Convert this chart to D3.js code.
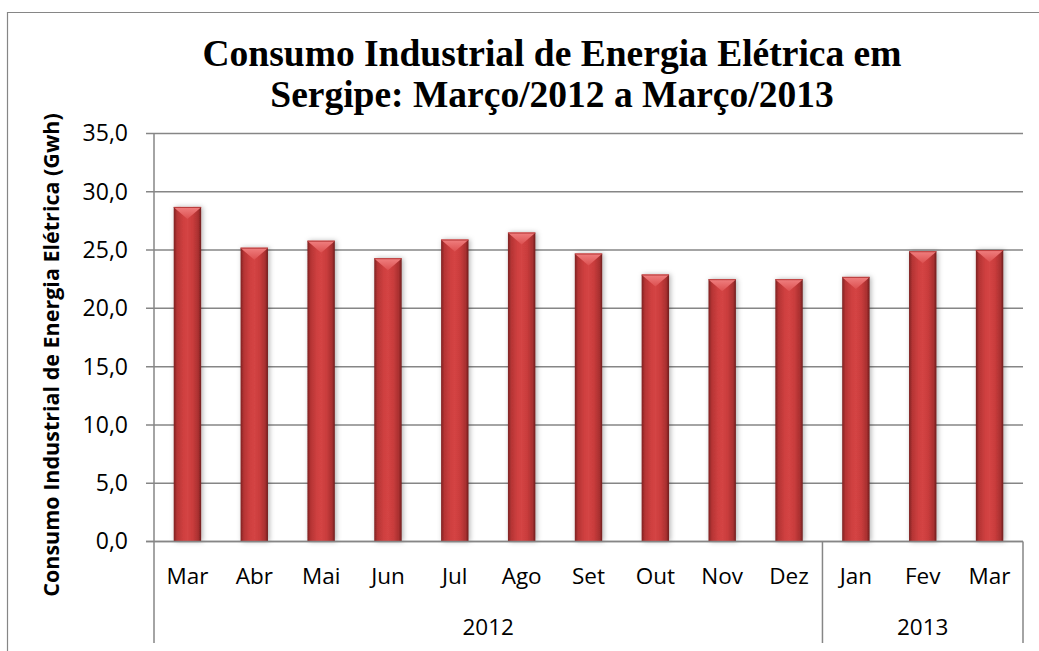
<!DOCTYPE html>
<html>
<head>
<meta charset="utf-8">
<script src="https://cdn.jsdelivr.net/npm/d3@7"></script>
<style>
  body { margin: 0; background: #fff; }
  svg { display: block; }
</style>
</head>
<body>
<script>
let months = ['Mar', 'Abr', 'Mai', 'Jun', 'Jul', 'Ago', 'Set', 'Out', 'Nov', 'Dez', 'Jan', 'Fev', 'Mar']
let values = [28.7, 25.2, 25.8, 24.3, 25.9, 26.5, 24.7, 22.9, 22.5, 22.5, 22.7, 24.9, 25.0]
let years = ['2012', '2013']
let yearCounts = [10, 3]
let yTicks = [0, 5, 10, 15, 20, 25, 30, 35]
let titleLines = ['Consumo Industrial de Energia Elétrica em', 'Sergipe: Março/2012 a Março/2013']
let yTitle = 'Consumo Industrial de Energia Elétrica (Gwh)'

let W = 1039, H = 651
let plot = { left: 154, right: 1023, top: 133.5, bottom: 541.5 }
let grid = '#868686'
let labelFont = "'Open Sans', sans-serif"

let svg = d3.select('body').append('svg')
  .attr('width', W)
  .attr('height', H)

// gradients for the bevelled bars
let defs = svg.append('defs')
let g1 = defs.append('linearGradient').attr('id', 'barGrad')
  .attr('x1', '0').attr('x2', '1').attr('y1', '0').attr('y2', '0')
;[[0, '#7e2222'], [0.12, '#b53434'], [0.35, '#cf4040'], [0.5, '#d44444'], [0.7, '#c93c3c'], [0.9, '#a83030'], [1, '#6e1d1d']]
  .forEach(s => g1.append('stop').attr('offset', s[0]).attr('stop-color', s[1]))
let g2 = defs.append('linearGradient').attr('id', 'capGrad')
  .attr('x1', '0').attr('x2', '0').attr('y1', '0').attr('y2', '1')
g2.append('stop').attr('offset', 0).attr('stop-color', '#f08080')
g2.append('stop').attr('offset', 1).attr('stop-color', '#dc5050')
let f = defs.append('filter').attr('id', 'shadow')
  .attr('x', '-30%').attr('y', '-10%').attr('width', '160%').attr('height', '120%')
f.append('feDropShadow').attr('dx', 1.5).attr('dy', 0).attr('stdDeviation', 2.5)
  .attr('flood-color', '#000').attr('flood-opacity', 0.3)

// outer chart border (cropped at right and bottom)
svg.append('path')
  .attr('d', `M7.5,${H + 2} L7.5,12.5 L${W + 2},12.5`)
  .attr('fill', 'none').attr('stroke', grid).attr('stroke-width', 1.2)

let x = d3.scaleBand()
  .domain(d3.range(months.length))
  .range([plot.left, plot.right])
  .paddingInner(0.59)
  .paddingOuter(0.295)

let y = d3.scaleLinear()
  .domain([0, 35])
  .range([plot.bottom, plot.top])

// gridlines
svg.append('g')
  .selectAll('line')
  .data(yTicks)
  .join('line')
  .attr('x1', plot.left - 8).attr('x2', plot.right)
  .attr('y1', d => y(d)).attr('y2', d => y(d))
  .attr('stroke', grid).attr('stroke-width', 1.5)

// y axis
let yAxis = svg.append('g')
  .attr('transform', `translate(${plot.left},0)`)
  .call(d3.axisLeft(y).tickValues(yTicks).tickSize(0).tickPadding(26)
    .tickFormat(d => d3.format('.1f')(d).replace('.', ',')))
yAxis.select('.domain').remove()
yAxis.selectAll('text')
  .attr('font-family', labelFont).attr('font-size', 23).attr('fill', '#000')

svg.append('line')
  .attr('x1', plot.left).attr('x2', plot.left)
  .attr('y1', plot.top).attr('y2', 643)
  .attr('stroke', grid).attr('stroke-width', 1.5)

// bars
let bars = svg.append('g').selectAll('g')
  .data(values)
  .join('g')

bars.append('rect')
  .attr('x', (d, i) => x(i))
  .attr('y', d => y(d))
  .attr('width', x.bandwidth())
  .attr('height', d => y(0) - y(d))
  .attr('fill', 'url(#barGrad)')
  .attr('filter', 'url(#shadow)')

bars.append('path')
  .attr('d', (d, i) => {
    let x0 = x(i), x1 = x(i) + x.bandwidth(), top = y(d), bw = x.bandwidth()
    return `M${x0},${top} L${x1},${top} L${x1 - 2},${top + 2} L${x0 + bw / 2},${top + 12} L${x0 + 2},${top + 2} Z`
  })
  .attr('fill', 'url(#capGrad)')

bars.append('path')
  .attr('d', (d, i) => `M${x(i)},${y(d) + 0.5} L${x(i) + x.bandwidth()},${y(d) + 0.5}`)
  .attr('stroke', '#b83c3c').attr('stroke-width', 1)

// x axis baseline
svg.append('line')
  .attr('x1', plot.left - 8).attr('x2', plot.right)
  .attr('y1', plot.bottom).attr('y2', plot.bottom)
  .attr('stroke', grid).attr('stroke-width', 1.5)

// month labels
svg.append('g').selectAll('text')
  .data(months)
  .join('text')
  .attr('x', (d, i) => x(i) + x.bandwidth() / 2)
  .attr('y', 584)
  .attr('text-anchor', 'middle')
  .attr('font-family', labelFont).attr('font-size', 22.5)
  .text(d => d)

// year groups
let start = 0
years.forEach((yr, k) => {
  let a = plot.left + start * (plot.right - plot.left) / months.length
  start += yearCounts[k]
  let b = plot.left + start * (plot.right - plot.left) / months.length
  svg.append('line')
    .attr('x1', b).attr('x2', b)
    .attr('y1', plot.bottom).attr('y2', 643)
    .attr('stroke', grid).attr('stroke-width', 1.5)
  svg.append('text')
    .attr('x', (a + b) / 2).attr('y', 635)
    .attr('text-anchor', 'middle')
    .attr('font-family', labelFont).attr('font-size', 22.5)
    .text(yr)
})

// title
svg.append('g').selectAll('text')
  .data(titleLines)
  .join('text')
  .attr('x', 552)
  .attr('y', (d, i) => 66 + i * 41)
  .attr('text-anchor', 'middle')
  .attr('font-family', "'Liberation Serif', 'Times New Roman', serif")
  .attr('font-weight', 'bold')
  .attr('font-size', 37.5)
  .text(d => d)

// y axis title
svg.append('text')
  .attr('transform', 'translate(59,355) rotate(-90)')
  .attr('text-anchor', 'middle')
  .attr('font-family', labelFont)
  .attr('font-weight', 'bold')
  .attr('font-size', 21.5)
  .text(yTitle)
</script>
</body>
</html>
